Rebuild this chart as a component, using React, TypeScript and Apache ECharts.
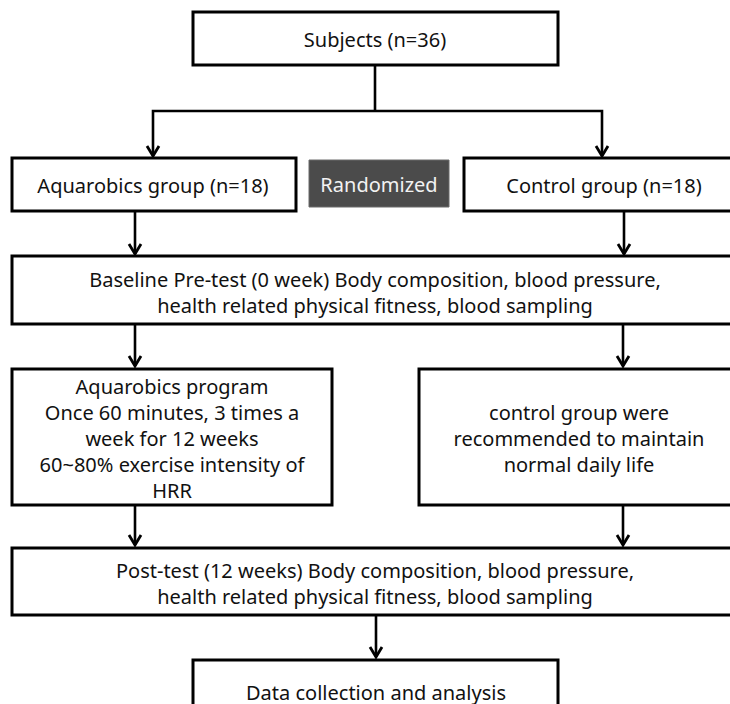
import React, { useEffect, useRef } from "react";
import * as echarts from "echarts";

// Box labels (one entry per box)
const boxLabels: string[] = [
  "Subjects (n=36)",
  "Aquarobics group (n=18)",
  "Randomized",
  "Control group (n=18)",
  "Baseline Pre-test (0 week) Body composition, blood pressure,\nhealth related physical fitness, blood sampling",
  "Aquarobics program\nOnce 60 minutes, 3 times a\nweek for 12 weeks\n60~80% exercise intensity of\nHRR",
  "control group were\nrecommended to maintain\nnormal daily life",
  "Post-test (12 weeks) Body composition, blood pressure,\nhealth related physical fitness, blood sampling",
  "Data collection and analysis",
];

// Box geometry [x, y, w, h]
const boxRects: number[][] = [
  [193, 12, 365, 53],
  [12, 158, 284, 53],
  [309, 160, 140, 47],
  [464, 158, 280, 53],
  [12, 256, 730, 68],
  [12, 369, 320, 136],
  [419, 369, 325, 136],
  [12, 548, 730, 67],
  [193, 660, 365, 60],
];

// Simple arrows: [x, yStart, yEnd]
const arrows: number[][] = [
  [135, 211, 255],
  [624, 211, 255],
  [135, 324, 367],
  [623, 324, 367],
  [135, 505, 546],
  [623, 505, 546],
  [376, 615, 658],
];

export default function App() {
  const ref = useRef<HTMLDivElement>(null);
  useEffect(() => {
    if (!ref.current) return;
    const chart = echarts.init(ref.current, null, { renderer: "svg" });
    const font = '20px "Noto Sans", sans-serif';
    const els: any[] = [];
    boxRects.forEach((r, i) => {
      const dark = i === 2;
      els.push({
        type: "rect",
        shape: { x: r[0], y: r[1], width: r[2], height: r[3] },
        style: dark
          ? { fill: "#4b4b4b", stroke: "#6a6a6a", lineWidth: 1 }
          : { fill: "#ffffff", stroke: "#000000", lineWidth: 3 },
      });
    });
    const textPos: number[][] = [
      [375, 39],
      [153, 185],
      [379, 184],
      [604, 185],
      [375, 292],
      [172, 438],
      [579, 438],
      [375, 583],
      [376, 692],
    ];
    boxLabels.forEach((t, i) => {
      els.push({
        type: "text",
        style: {
          text: t,
          x: textPos[i][0],
          y: textPos[i][1],
          font,
          fill: i === 2 ? "#f2f2f2" : "#111111",
          align: "center",
          verticalAlign: "middle",
          lineHeight: 26,
        },
      });
    });
    const lineStyle = { stroke: "#000000", lineWidth: 2.6, fill: "none" };
    const head = (x: number, y: number) => ({
      type: "polyline",
      shape: { points: [[x - 6, y - 11], [x, y - 1], [x + 6, y - 11]] },
      style: { ...lineStyle, lineWidth: 2.8 },
    });
    // Split from Subjects
    els.push({ type: "line", shape: { x1: 375, y1: 65, x2: 375, y2: 111 }, style: lineStyle });
    els.push({ type: "polyline", shape: { points: [[153, 156], [153, 111], [602, 111], [602, 156]] }, style: lineStyle });
    els.push(head(153, 157));
    els.push(head(602, 157));
    arrows.forEach((a) => {
      els.push({ type: "line", shape: { x1: a[0], y1: a[1], x2: a[0], y2: a[2] - 1 }, style: lineStyle });
      els.push(head(a[0], a[2]));
    });
    chart.setOption({ animation: false, backgroundColor: "#ffffff", graphic: { elements: els } });
    return () => chart.dispose();
  }, []);
  return <div ref={ref} style={{ position: "fixed", left: 0, top: 0, width: 730, height: 704 }} />;
}
